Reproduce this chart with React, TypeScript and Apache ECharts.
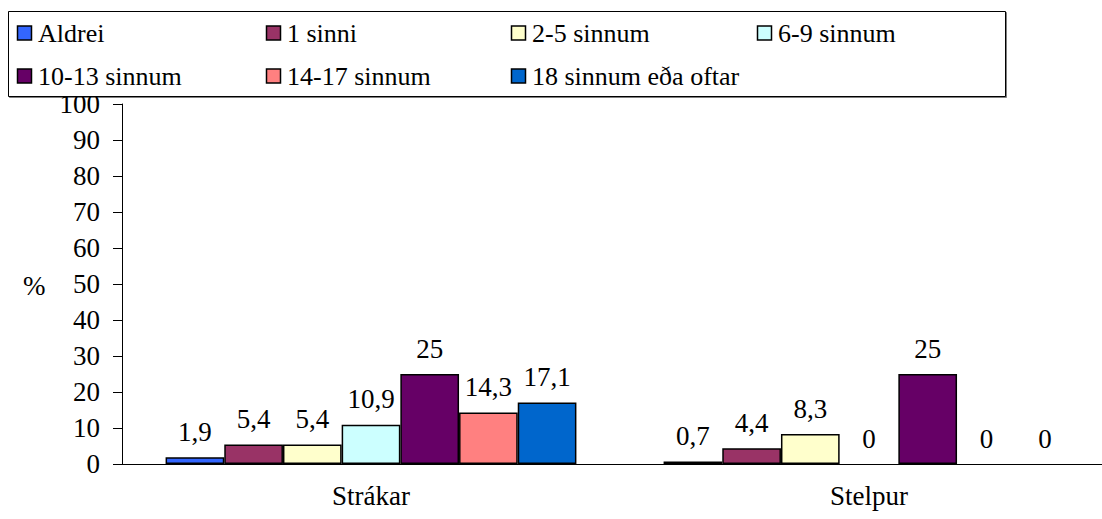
import React, { useEffect, useRef } from "react";
import * as echarts from "echarts";

const categories = ["Strákar", "Stelpur"];
const seriesNames = [
  "Aldrei",
  "1 sinni",
  "2-5 sinnum",
  "6-9 sinnum",
  "10-13 sinnum",
  "14-17 sinnum",
  "18 sinnum eða oftar",
];
const aldrei = [1.9, 0.7];
const einuSinni = [5.4, 4.4];
const tvoFimm = [5.4, 8.3];
const sexNiu = [10.9, 0];
const tiuThrettan = [25, 25];
const fjortanSautjan = [14.3, 0];
const atjanOftar = [17.1, 0];
const seriesValues = [aldrei, einuSinni, tvoFimm, sexNiu, tiuThrettan, fjortanSautjan, atjanOftar];
const colors = ["#3366FF", "#993366", "#FFFFCC", "#CCFFFF", "#660066", "#FF8080", "#0066CC"];
const yTicks = { min: 0, max: 100, interval: 10 };

const FONT = "Liberation Serif";

export default function App() {
  const ref = useRef<HTMLDivElement>(null);
  const legRef = useRef<HTMLDivElement>(null);
  useEffect(() => {
    if (!ref.current || !legRef.current) return;
    const chart = echarts.init(ref.current, undefined, { renderer: "svg" });
    chart.setOption({
      animation: false,
      grid: { left: 122, right: 0, top: 104, bottom: 55 },
      graphic: [
        {
          type: "text",
          z: 5,
          x: 23,
          y: 286,
          style: { text: "%", fontFamily: FONT, fontSize: 27, fill: "#000", verticalAlign: "middle", align: "left" },
        },
      ],
      xAxis: {
        type: "category",
        data: categories,
        axisLine: { lineStyle: { color: "#000" } },
        axisTick: { length: 8, interval: 0, lineStyle: { color: "#000" } },
        axisLabel: { fontFamily: FONT, fontSize: 27, color: "#000", margin: 18, interval: 0 },
      },
      yAxis: {
        type: "value",
        min: yTicks.min,
        max: yTicks.max,
        interval: yTicks.interval,
        axisLine: { show: true, lineStyle: { color: "#000" } },
        axisTick: { show: true, length: 9, lineStyle: { color: "#000" } },
        axisLabel: { fontFamily: FONT, fontSize: 27, color: "#000", margin: 22 },
        splitLine: { show: false },
      },
      series: seriesNames.map((n, i) => ({
        name: n,
        type: "bar",
        data: seriesValues[i].map((x) => (x === 0 ? { value: x, itemStyle: { borderWidth: 0 } } : x)),
        barGap: "0%",
        barCategoryGap: "17.5%",
        itemStyle: { color: colors[i], borderColor: "#000", borderWidth: 1.5 },
        label: {
          show: true,
          position: "top",
          distance: 12,
          fontFamily: FONT,
          fontSize: 27,
          color: "#000",
          formatter: (p: any) => String(p.value).replace(".", ","),
        },
      })),
    });

    const legend = echarts.init(legRef.current, undefined, { renderer: "svg" });
    const legendPos = [
      [17, 33], [266, 33], [511, 33], [757, 33],
      [17, 76], [266, 76], [511, 76],
    ];
    const items: any[] = [
      {
        type: "rect",
        shape: { x: 8.5, y: 11.5, width: 997, height: 85 },
        style: { fill: "#fff", stroke: "#000", lineWidth: 1, shadowColor: "rgba(0,0,0,0.5)", shadowOffsetY: 1, shadowOffsetX: 1 },
      },
    ];
    seriesNames.forEach((n, i) => {
      const [lx, cy] = legendPos[i];
      items.push({
        type: "rect",
        shape: { x: lx + 0.5, y: cy - 7, width: 14, height: 14 },
        style: { fill: colors[i], stroke: "#000", lineWidth: 1.5 },
      });
      items.push({
        type: "text",
        x: lx + 21,
        y: cy,
        style: { text: n, fontFamily: FONT, fontSize: 26, fill: "#000", verticalAlign: "middle", align: "left" },
      });
    });
    legend.setOption({ animation: false, graphic: items });

    return () => {
      chart.dispose();
      legend.dispose();
    };
  }, []);
  return (
    <div style={{ position: "fixed", left: 0, top: 0, width: 1102, height: 519, overflow: "hidden", background: "#fff" }}>
      <div ref={ref} style={{ position: "absolute", left: 0, top: 0, width: 1118, height: 519 }} />
      <div ref={legRef} style={{ position: "absolute", left: 0, top: 0, width: 1102, height: 100, zIndex: 2 }} />
    </div>
  );
}
